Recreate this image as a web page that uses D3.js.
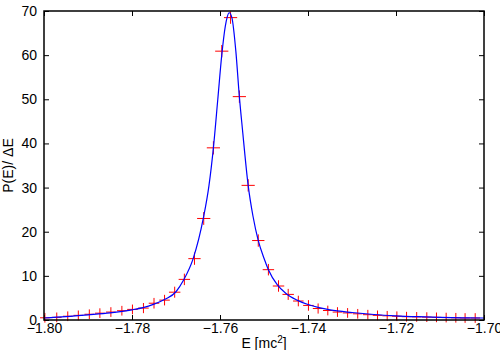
<!DOCTYPE html>
<html>
<head>
<meta charset="utf-8">
<script src="https://cdn.jsdelivr.net/npm/d3@7"></script>
<style>
  body { margin: 0; background: #fff; }
  text { font-family: "Liberation Sans", Arial, sans-serif; }
</style>
</head>
<body>
<div class="canvas1"></div>
<script>
// histogram points: energy, P(E)/dE, vertical error, horizontal half width
const energy = [-1.7998, -1.7971, -1.7946, -1.7922, -1.7897, -1.7873, -1.7848, -1.7823, -1.7799, -1.7774,
  -1.7750, -1.7726, -1.7703, -1.7681, -1.7658, -1.7637, -1.7615, -1.7596, -1.7576, -1.7556,
  -1.7536, -1.7513, -1.7490, -1.7467, -1.7445, -1.7422, -1.7399, -1.7377, -1.7355, -1.7333,
  -1.7310, -1.7287, -1.7264, -1.7242, -1.7220, -1.7198, -1.7176, -1.7153, -1.7130, -1.7108,
  -1.7086, -1.7064, -1.7043, -1.7020];
const prob = [0.5, 0.6, 0.85, 1.05, 1.3, 1.55, 1.8, 2.1, 2.4, 2.7,
  3.8, 4.5, 6.3, 9.2, 13.9, 23.0, 39.0, 60.9, 68.5, 50.6,
  30.5, 18.0, 11.4, 7.7, 5.8, 4.3, 3.3, 2.6, 2.15, 1.8,
  1.6, 1.4, 1.2, 1.05, 0.95, 0.85, 0.75, 0.7, 0.65, 0.6,
  0.55, 0.5, 0.45, 0.45];
const probErr = [1.1, 1.1, 1.1, 1.1, 1.1, 1.1, 1.1, 1.1, 1.1, 1.15,
  1.2, 1.2, 1.25, 1.3, 1.4, 1.45, 1.5, 1.4, 1.4, 1.4,
  1.4, 1.4, 1.3, 1.3, 1.25, 1.2, 1.2, 1.15, 1.1, 1.1,
  1.1, 1.1, 1.1, 1.1, 1.1, 1.1, 1.1, 1.1, 1.1, 1.1,
  1.1, 1.1, 1.1, 1.1];
const energyErr = [0.0011, 0.0011, 0.0011, 0.0011, 0.0011, 0.0011, 0.0011, 0.0011, 0.0012, 0.0012,
  0.0012, 0.0012, 0.0013, 0.0013, 0.0014, 0.0015, 0.0015, 0.0015, 0.0015, 0.0015,
  0.0015, 0.0014, 0.0013, 0.0013, 0.0013, 0.0012, 0.0012, 0.0012, 0.0011, 0.0011,
  0.0011, 0.0011, 0.0011, 0.0011, 0.0011, 0.0011, 0.0011, 0.0011, 0.0011, 0.0011,
  0.0011, 0.0011, 0.0011, 0.0011];

// fitted curve
const fitE = [-1.8000, -1.7950, -1.7900, -1.7850, -1.7800, -1.7775, -1.7750, -1.7725, -1.7700, -1.7683,
  -1.7661, -1.7638, -1.7625, -1.7615, -1.7605, -1.7596, -1.7588, -1.7584, -1.7579, -1.7573,
  -1.7564, -1.7556, -1.7549, -1.7536, -1.7525, -1.7513, -1.7500, -1.7490, -1.7470, -1.7450,
  -1.7425, -1.7400, -1.7375, -1.7350, -1.7300, -1.7250, -1.7200, -1.7150, -1.7100, -1.7050, -1.7000];
const fitP = [0.45, 0.75, 1.15, 1.6, 2.3, 2.8, 3.6, 4.7, 6.4, 9.0,
  13.9, 23.0, 30.5, 39.0, 50.0, 60.0, 66.5, 68.5, 69.6, 68.5,
  60.9, 50.6, 43.2, 30.5, 23.5, 18.0, 14.0, 11.4, 8.0, 6.0,
  4.5, 3.5, 2.8, 2.3, 1.7, 1.25, 0.95, 0.75, 0.6, 0.5, 0.45];

const xTicks = [-1.80, -1.78, -1.76, -1.74, -1.72, -1.70];
const yTicks = [0, 10, 20, 30, 40, 50, 60, 70];

const margin = { top: 11, right: 16, bottom: 30, left: 44 };
const width = 500 - margin.left - margin.right;
const height = 350 - margin.top - margin.bottom;

const svg = d3.select(".canvas1").append("svg")
    .attr("width", 500)
    .attr("height", 350)
  .append("g")
    .attr("transform", "translate(" + margin.left + "," + margin.top + ")");

const x = d3.scaleLinear().domain([-1.80, -1.70]).range([0, width]);
const y = d3.scaleLinear().domain([0, 70]).range([height, 0]);

const points = energy.map((e, i) => ({ e: e, p: prob[i], dp: probErr[i], de: energyErr[i] }));
const fit = fitE.map((e, i) => ({ e: e, p: fitP[i] }));

// axes, ticks pointing inward, mirrored on top and right
const styleAxis = g => {
  g.select(".domain").remove();
  g.selectAll("line").attr("stroke", "#000");
  g.selectAll("text").style("font-size", "14px").attr("fill", "#000");
};

svg.append("g")
  .attr("transform", "translate(0," + height + ")")
  .call(d3.axisBottom(x).tickValues(xTicks).tickSize(-5).tickPadding(3)
    .tickFormat(d3.format(".2f")))
  .call(styleAxis);

svg.append("g")
  .call(d3.axisTop(x).tickValues(xTicks).tickSize(-5).tickFormat(""))
  .call(styleAxis);

svg.append("g")
  .call(d3.axisLeft(y).tickValues(yTicks).tickSize(-5).tickPadding(7))
  .call(styleAxis);

svg.append("g")
  .attr("transform", "translate(" + width + ",0)")
  .call(d3.axisRight(y).tickValues(yTicks).tickSize(-5).tickFormat(""))
  .call(styleAxis);

// error bars
const bars = svg.append("g").attr("stroke", "#ff0000").attr("stroke-width", 1);
bars.selectAll(".v").data(points).enter().append("line")
  .attr("x1", d => x(d.e)).attr("x2", d => x(d.e))
  .attr("y1", d => y(d.p - d.dp)).attr("y2", d => y(d.p + d.dp));
bars.selectAll(".h").data(points).enter().append("line")
  .attr("x1", d => x(d.e - d.de)).attr("x2", d => x(d.e + d.de))
  .attr("y1", d => y(d.p)).attr("y2", d => y(d.p));

// fit line
const fitLine = d3.line()
  .curve(d3.curveMonotoneX)
  .x(d => x(d.e))
  .y(d => y(d.p));

svg.append("path")
  .datum(fit)
  .attr("fill", "none")
  .attr("stroke", "#0000ff")
  .attr("stroke-width", 1.2)
  .attr("d", fitLine);

// frame
svg.append("rect")
  .attr("width", width).attr("height", height)
  .attr("fill", "none").attr("stroke", "#000").attr("stroke-width", 1.5);

// labels
const xLabel = svg.append("text")
  .attr("x", width / 2)
  .attr("y", height + 28)
  .attr("text-anchor", "middle")
  .style("font-size", "14px");
xLabel.append("tspan").text("E [mc");
xLabel.append("tspan").attr("dy", -5).style("font-size", "10px").text("2");
xLabel.append("tspan").attr("dy", 5).text("]");

svg.append("text")
  .attr("transform", "rotate(-90)")
  .attr("x", -height / 2)
  .attr("y", -margin.left + 13)
  .attr("text-anchor", "middle")
  .style("font-size", "14px")
  .text("P(E)/ ΔE");
</script>
</body>
</html>
